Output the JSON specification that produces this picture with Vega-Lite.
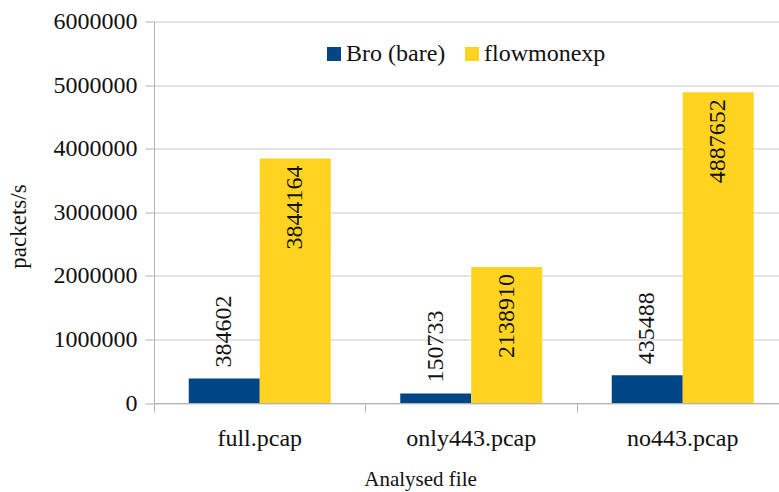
{
  "$schema": "https://vega.github.io/schema/vega-lite/v6.json",
  "autosize": {"type": "none"},
  "width": 625,
  "height": 381.5,
  "padding": {"left": 154, "top": 21.5, "right": 0, "bottom": 89},
  "background": "white",
  "config": {"view": {"stroke": null}, "font": "Liberation Serif"},
  "data": {
    "values": [
      {"file": "full.pcap", "tool": "Bro (bare)", "value": 384602},
      {"file": "full.pcap", "tool": "flowmonexp", "value": 3844164},
      {"file": "only443.pcap", "tool": "Bro (bare)", "value": 150733},
      {"file": "only443.pcap", "tool": "flowmonexp", "value": 2138910},
      {"file": "no443.pcap", "tool": "Bro (bare)", "value": 435488},
      {"file": "no443.pcap", "tool": "flowmonexp", "value": 4887652}
    ]
  },
  "encoding": {
    "x": {
      "field": "file",
      "type": "nominal",
      "sort": null,
      "scale": {"paddingInner": 0, "paddingOuter": 0, "range": [0, 634.5]},
      "axis": {
        "bandPosition": 0,
        "labelAngle": 0,
        "labelFont": "Liberation Serif",
        "labelFontSize": 24,
        "labelColor": "#111111",
        "labelBaseline": "alphabetic",
        "labelPadding": 33,
        "tickSize": 9,
        "tickColor": "#b3b3b3",
        "domainColor": "#b3b3b3",
        "grid": false,
        "title": "Analysed file",
        "titleFont": "Liberation Serif",
        "titleFontSize": 21,
        "titleFontWeight": "normal",
        "titleColor": "#111111",
        "titleX": 266,
        "titleY": 82,
        "titleAlign": "center",
        "titleBaseline": "alphabetic"
      }
    },
    "xOffset": {
      "field": "tool",
      "type": "nominal",
      "sort": null,
      "scale": {"paddingInner": 0, "paddingOuter": 0.4894}
    },
    "y": {
      "field": "value",
      "type": "quantitative",
      "scale": {"domain": [0, 6000000], "nice": false},
      "axis": {
        "values": [0, 1000000, 2000000, 3000000, 4000000, 5000000, 6000000],
        "format": "d",
        "labelFont": "Liberation Serif",
        "labelFontSize": 24,
        "labelColor": "#111111",
        "labelPadding": 8,
        "tickSize": 9,
        "tickColor": "#b3b3b3",
        "domainColor": "#b3b3b3",
        "grid": true,
        "gridColor": "#c8c8c8",
        "title": "packets/s",
        "titleFont": "Liberation Serif",
        "titleFontSize": 23,
        "titleFontWeight": "normal",
        "titleColor": "#111111",
        "titleX": -136,
        "titleY": 204.5,
        "titleAngle": 270,
        "titleAlign": "center",
        "titleBaseline": "middle"
      }
    }
  },
  "layer": [
    {
      "mark": {"type": "bar"},
      "encoding": {
        "color": {
          "field": "tool",
          "type": "nominal",
          "scale": {"domain": ["Bro (bare)", "flowmonexp"], "range": ["#004586", "#ffd320"]},
          "legend": {
            "orient": "none",
            "legendX": 168,
            "legendY": 20.5,
            "direction": "horizontal",
            "title": null,
            "symbolType": "square",
            "symbolSize": 196,
            "symbolStrokeWidth": 0,
            "labelFont": "Liberation Serif",
            "labelFontSize": 24,
            "labelColor": "#111111",
            "labelOffset": 0,
            "columnPadding": 14
          }
        }
      }
    },
    {
      "transform": [{"filter": "datum.tool === 'Bro (bare)'"}],
      "mark": {"type": "text", "angle": 270, "align": "left", "baseline": "middle", "dx": 11, "font": "Liberation Serif", "fontSize": 24, "color": "#111111"},
      "encoding": {"text": {"field": "value", "type": "quantitative", "format": "d"}}
    },
    {
      "transform": [{"filter": "datum.tool === 'flowmonexp'"}],
      "mark": {"type": "text", "angle": 270, "align": "right", "baseline": "middle", "dx": -7, "font": "Liberation Serif", "fontSize": 24, "color": "#111111"},
      "encoding": {"text": {"field": "value", "type": "quantitative", "format": "d"}}
    }
  ]
}
